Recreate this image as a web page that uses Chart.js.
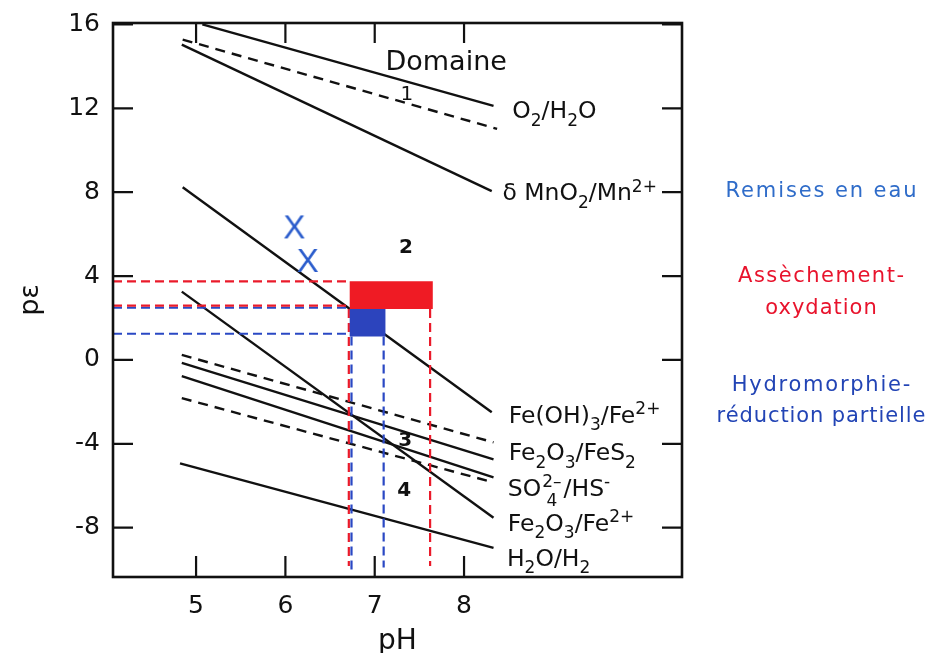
<!DOCTYPE html>
<html>
<head>
<meta charset="utf-8">
<script src="https://cdn.jsdelivr.net/npm/chart.js@4/dist/chart.umd.min.js"></script>
<style>
html,body{margin:0;padding:0;background:#ffffff;}
#wrap{width:927px;height:653px;position:relative;}
</style>
</head>
<body>
<div id="wrap"><canvas id="c" width="927" height="653"></canvas></div>
<script>
// ---------- DATA ----------
// Redox couples: straight boundary lines (pH, pε) start and end
const couples   = ['O2/H2O','Domaine 1 (limite)','δ MnO2/Mn2+','Fe(OH)3/Fe2+','Fe2O3/Fe2+','Fe2O3/FeS2 (b)','Fe2O3/FeS2','SO4/HS-','SO4/HS- (b)','H2O/H2'];
const startPH   = [5.07, 4.85, 4.84, 4.85, 4.84, 4.84, 4.84, 4.84, 4.84, 4.82];
const startPE   = [16.0, 15.28, 15.04, 8.24, 3.26, 0.24, -0.14, -0.77, -1.82, -4.93];
const endPH     = [8.33, 8.37, 8.31, 8.31, 8.33, 8.33, 8.33, 8.33, 8.33, 8.33];
const endPE     = [12.12, 11.02, 8.05, -2.49, -7.52, -3.93, -4.74, -5.60, -5.84, -8.96];
const isDashed  = [false, true, false, false, false, true, false, false, true, false];

// Oxidation (red) and partial reduction (blue) zones
const redRectPH  = [6.72, 7.65];
const redRectPE  = [2.43, 3.75];
const blueRectPH = [6.72, 7.12];
const blueRectPE = [1.12, 2.43];
const redGuidePE  = [3.75, 2.59];
const redGuidePH  = [6.71, 7.62];
const redGuideEndPE  = [-9.82, -9.82];
const blueGuidePE = [2.49, 1.25];
const blueGuidePH = [6.74, 7.10];
const blueGuideEndPE = [-10.15, -9.90];

// "Remises en eau" markers
const markPH = [6.10, 6.25];
const markPE = [6.37, 4.77];

// ticks
const xTicks = [5, 6, 7, 8];
const yTicks = [-8, -4, 0, 4, 8, 12, 16];

// region labels
const regionLabels = ['Domaine', '1', '2', '3', '4'];
const regionPH = [7.80, 7.36, 7.35, 7.34, 7.33];
const regionPE = [14.16, 12.65, 5.34, -3.86, -6.25];

// couple labels at the right end of lines
const coupleLabelPH = [8.54, 8.43, 8.50, 8.50, 8.49, 8.49, 8.48];
const coupleLabelPE = [11.92, 8.01, -2.62, -4.39, -6.10, -7.73, -9.44];
const coupleLabelParts = [
  [['O',''],['2','sub'],['/H',''],['2','sub'],['O','']],
  [['δ MnO',''],['2','sub'],['/Mn',''],['2+','sup']],
  [['Fe(OH)',''],['3','sub'],['/Fe',''],['2+','sup']],
  [['Fe',''],['2','sub'],['O',''],['3','sub'],['/FeS',''],['2','sub']],
  [['SO',''],['2–|4','supsub'],['/HS',''],['-','sup']],
  [['Fe',''],['2','sub'],['O',''],['3','sub'],['/Fe',''],['2+','sup']],
  [['H',''],['2','sub'],['O/H',''],['2','sub']]
];

// side legend
const sideTexts  = ['Remises en eau', 'Assèchement-', 'oxydation', 'Hydromorphie-', 'réduction partielle'];

// ---------- STYLE ----------
const sideColors  = ['#2f6cc9', '#e8132c', '#e8132c', '#2244b5', '#2244b5'];
const sideSpacing = [1.9, 1.5, 1.0, 1.75, 0.9];
const sideY       = [192, 277, 309, 386, 417];
const FONT = '"DejaVu Sans", "Liberation Sans", Arial, sans-serif';
const XMIN = 4.07, XMAX = 10.44, YMIN = -10.35, YMAX = 16.07;
const RED = '#ea1a2a', BLUE = '#2a48c4', INK = '#111111';

function pts(xs, ys) { return xs.map((x, i) => ({x: x, y: ys[i]})); }
function rect(px, pe) {
  return [{x:px[0],y:pe[0]},{x:px[1],y:pe[0]},{x:px[1],y:pe[1]},{x:px[0],y:pe[1]},{x:px[0],y:pe[0]}];
}

// X marker drawn as a letter on a small canvas used as point style
const xCanvas = document.createElement('canvas');
xCanvas.width = 28; xCanvas.height = 30;
(function(){
  const g = xCanvas.getContext('2d');
  g.fillStyle = '#2a5ccc';
  g.font = '33px "Liberation Sans", Arial, sans-serif';
  g.textAlign = 'center';
  g.textBaseline = 'alphabetic';
  g.fillText('X', 14, 27);
})();

const datasets = [];
// zones (drawn on top)
datasets.push({label:'oxydation', data: rect(redRectPH, redRectPE), showLine:true, fill:'shape',
  backgroundColor: '#ef1b24', borderColor:'#ef1b24', borderWidth:0, pointRadius:0, order:0});
datasets.push({label:'réduction', data: rect(blueRectPH, blueRectPE), showLine:true, fill:'shape',
  backgroundColor: '#2c44bd', borderColor:'#2c44bd', borderWidth:0, pointRadius:0, order:0});
// guides
redGuidePE.forEach(v => datasets.push({data:[{x:XMIN,y:v},{x:redRectPH[0],y:v}], showLine:true, borderColor:RED,
  borderWidth:2.2, borderDash:[9,5], pointRadius:0, order:1}));
blueGuidePE.forEach(v => datasets.push({data:[{x:XMIN,y:v},{x:blueRectPH[0],y:v}], showLine:true, borderColor:BLUE,
  borderWidth:2.2, borderDash:[9,5], pointRadius:0, order:1}));
redGuidePH.forEach((v,i) => datasets.push({data:[{x:v,y:redRectPE[0]},{x:v,y:redGuideEndPE[i]}], showLine:true, borderColor:RED,
  borderWidth:2.2, borderDash:[9,5], pointRadius:0, order:1}));
blueGuidePH.forEach((v,i) => datasets.push({data:[{x:v,y:blueRectPE[0]},{x:v,y:blueGuideEndPE[i]}], showLine:true, borderColor:BLUE,
  borderWidth:2.2, borderDash:[9,5], pointRadius:0, order:1}));
// redox lines
couples.forEach((c, i) => datasets.push({label:c, data:[{x:startPH[i],y:startPE[i]},{x:endPH[i],y:endPE[i]}],
  showLine:true, borderColor:INK, borderWidth:2.4, borderDash: isDashed[i] ? [10,7] : [], pointRadius:0, order:2}));
// markers
datasets.push({label:'Remises en eau', data: pts(markPH, markPE), showLine:false, pointStyle: xCanvas,
  pointRadius: 12, order:0});

function drawRich(ctx, x, yc, parts, size, color) {
  const base = size + 'px ' + FONT;
  const small = Math.round(size * 0.72) + 'px ' + FONT;
  const baseline = yc + size * 0.36;
  ctx.fillStyle = color;
  ctx.textAlign = 'left';
  ctx.textBaseline = 'alphabetic';
  let cx = x;
  parts.forEach(p => {
    const [t, k] = p;
    if (k === '') {
      ctx.font = base; ctx.fillText(t, cx, baseline); cx += ctx.measureText(t).width;
    } else if (k === 'sub') {
      ctx.font = small; ctx.fillText(t, cx, baseline + size * 0.3); cx += ctx.measureText(t).width;
    } else if (k === 'sup') {
      ctx.font = small; ctx.fillText(t, cx, baseline - size * 0.38); cx += ctx.measureText(t).width;
    } else if (k === 'supsub') {
      const [s1, s2] = t.split('|');
      ctx.font = small;
      const w1 = ctx.measureText(s1).width, w2 = ctx.measureText(s2).width;
      ctx.fillText(s1, cx + 1, baseline - size * 0.38);
      ctx.fillText(s2, cx + 1 + (w1 - w2) / 2, baseline + size * 0.42);
      cx += Math.max(w1, w2) + 3;
    }
  });
}

const decor = {
  id: 'decor',
  afterDatasetsDraw(chart) {
    const ctx = chart.ctx, a = chart.chartArea;
    const xs = chart.scales.x, ys = chart.scales.y;
    ctx.save();
    // frame
    ctx.strokeStyle = INK; ctx.lineWidth = 2.6; ctx.setLineDash([]);
    ctx.strokeRect(a.left, a.top, a.right - a.left, a.bottom - a.top);
    // inner ticks
    ctx.lineWidth = 2.2;
    ctx.beginPath();
    xTicks.forEach(v => {
      const px = xs.getPixelForValue(v);
      ctx.moveTo(px, a.bottom); ctx.lineTo(px, a.bottom - 21);
      ctx.moveTo(px, a.top); ctx.lineTo(px, a.top + 20);
    });
    yTicks.forEach(v => {
      const py = ys.getPixelForValue(v);
      ctx.moveTo(a.left, py); ctx.lineTo(a.left + 20, py);
      ctx.moveTo(a.right, py); ctx.lineTo(a.right - 20, py);
    });
    ctx.stroke();
    // region labels
    ctx.fillStyle = INK; ctx.textAlign = 'center'; ctx.textBaseline = 'middle';
    regionLabels.forEach((t, i) => {
      const sz = i === 0 ? 27 : 20;
      ctx.font = (i >= 2 ? 'bold ' : '') + sz + 'px ' + FONT;
      ctx.fillText(t, xs.getPixelForValue(regionPH[i]), ys.getPixelForValue(regionPE[i]));
    });
    // couple labels
    coupleLabelParts.forEach((parts, i) => {
      drawRich(ctx, xs.getPixelForValue(coupleLabelPH[i]), ys.getPixelForValue(coupleLabelPE[i]), parts, 23.5, INK);
    });
    // side legend
    const cx = a.right + 139;
    ctx.font = '21px ' + FONT;
    ctx.textAlign = 'center'; ctx.textBaseline = 'middle';
    sideTexts.forEach((t, i) => {
      try { ctx.letterSpacing = sideSpacing[i] + 'px'; } catch(e) {}
      ctx.fillStyle = sideColors[i];
      ctx.fillText(t, cx + sideSpacing[i] / 2, sideY[i]);
    });
    try { ctx.letterSpacing = '0px'; } catch(e) {}
    ctx.restore();
  }
};

new Chart(document.getElementById('c'), {
  type: 'scatter',
  data: { datasets: datasets },
  options: {
    responsive: false,
    animation: false,
    devicePixelRatio: 1,
    layout: { padding: { left: 0, right: 245, top: 23, bottom: 0 } },
    plugins: { legend: { display: false }, tooltip: { enabled: false } },
    elements: { line: { tension: 0 } },
    scales: {
      x: {
        type: 'linear', min: XMIN, max: XMAX,
        afterBuildTicks: s => { s.ticks = xTicks.map(v => ({value: v})); },
        afterFit: s => { s.height = 76; s.paddingLeft = 0; s.paddingRight = 0; },
        grid: { display: false, drawTicks: false },
        border: { display: false },
        ticks: { color: INK, font: { family: FONT, size: 25 }, padding: 14, maxRotation: 0, autoSkip: false },
        title: { display: true, text: 'pH', color: INK, font: { family: FONT, size: 28 }, padding: { top: 0, bottom: -6 } }
      },
      y: {
        type: 'linear', min: YMIN, max: YMAX,
        afterBuildTicks: s => { s.ticks = yTicks.map(v => ({value: v})); },
        afterFit: s => { s.width = 113; s.paddingTop = 0; s.paddingBottom = 0; },
        grid: { display: false, drawTicks: false },
        border: { display: false },
        ticks: { color: INK, font: { family: FONT, size: 25 }, padding: 13, autoSkip: false },
        title: { display: true, text: 'pε', color: INK, font: { family: FONT, size: 27 }, padding: { top: 15, bottom: 0 } }
      }
    }
  },
  plugins: [decor]
});
</script>
</body>
</html>
